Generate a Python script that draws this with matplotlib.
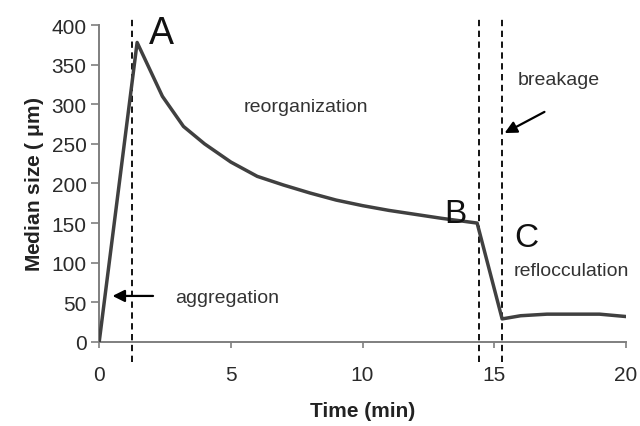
import matplotlib.pyplot as plt

plt.rcParams['font.family'] = ['Liberation Sans', 'DejaVu Sans']

# median size over time
time_min = [0, 1.44, 2.4, 3.2, 4, 5, 6, 7, 8, 9, 10, 11, 12, 13, 14.35,
            15.3, 16, 17, 18, 19, 20]
median_um = [0, 378, 310, 272, 250, 227, 209, 198, 188, 179, 172, 166, 161,
             156, 150, 29, 33, 35, 35, 35, 32]

# phase boundaries (dashed)
boundaries = [1.25, 14.42, 15.3]

xticks = [0, 5, 10, 15, 20]
yticks = list(range(0, 401, 50))

fig = plt.figure(figsize=(6.4, 4.27), dpi=100)
ax = fig.add_axes([0.155, 0.197, 0.823, 0.742])

ax.plot(time_min, median_um, color='#404040', lw=2.5, zorder=3)

for xb in boundaries:
    ax.plot([xb, xb], [-25, 410], color='black', lw=1.3,
            ls=(0, (3.5, 2.5)), clip_on=False, zorder=2)

ax.set_xlim(0, 20)
ax.set_ylim(0, 400)
ax.set_xticks(xticks)
ax.set_yticks(yticks)
for s in ['top', 'right']:
    ax.spines[s].set_visible(False)
for s in ['left', 'bottom']:
    ax.spines[s].set_color('#7f7f7f')
    ax.spines[s].set_linewidth(1.4)
ax.tick_params(axis='both', colors='#7f7f7f', labelcolor='#2a2a2a',
               labelsize=15, width=1.2)
ax.tick_params(axis='x', length=4, pad=13)
ax.tick_params(axis='y', length=6, pad=3)

ax.set_xlabel('Time (min)', fontsize=15, fontweight='bold', labelpad=12,
              color='#222222')
ax.set_ylabel('Median size ( $\\mathregular{\\mu}$m)', fontsize=15,
              fontweight='bold', labelpad=4, color='#222222')

# phase labels
ax.text(1.9, 390, 'A', fontsize=27, color='#111111', va='center')
ax.text(13.1, 162, 'B', fontsize=24, color='#111111', va='center')
ax.text(15.75, 132, 'C', fontsize=24, color='#111111', va='center')
ax.text(5.5, 292, 'reorganization', fontsize=14, color='#333333')
ax.text(15.9, 325, 'breakage', fontsize=14, color='#333333')
ax.text(15.75, 85, 'reflocculation', fontsize=14, color='#333333',
        clip_on=False)
ax.text(2.9, 50, 'aggregation', fontsize=14, color='#333333')

ax.annotate('', xy=(0.4, 58), xytext=(2.15, 58),
            arrowprops=dict(arrowstyle='-|>', color='black', lw=1.6,
                            mutation_scale=18))
ax.annotate('', xy=(15.3, 262), xytext=(17.0, 292),
            arrowprops=dict(arrowstyle='-|>', color='black', lw=1.6,
                            mutation_scale=18))

fig.savefig('out.png', dpi=100)
